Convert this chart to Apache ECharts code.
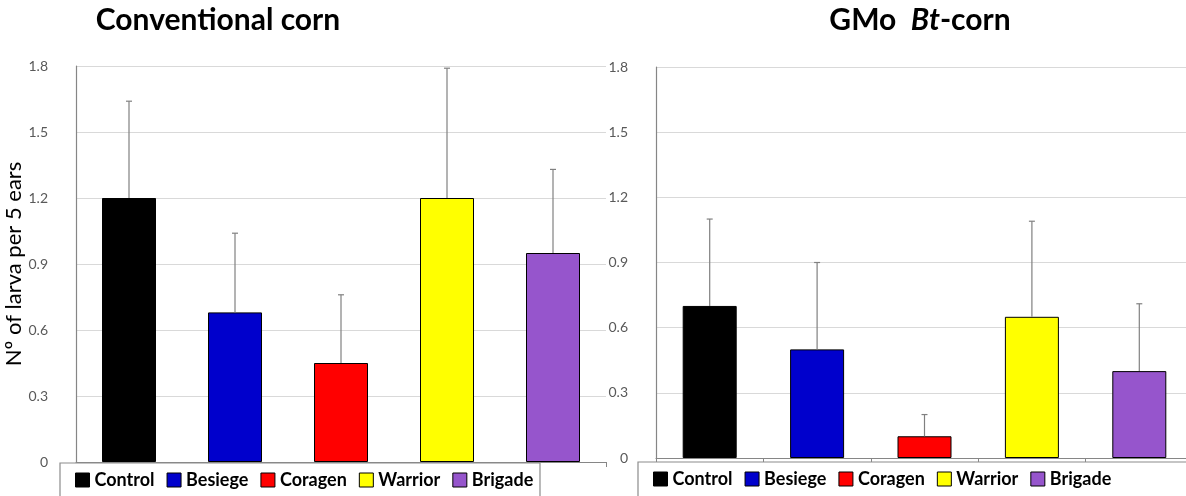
<!DOCTYPE html>
<html>
<head>
<meta charset="utf-8">
<script src="https://cdn.jsdelivr.net/npm/echarts@6/dist/echarts.min.js"></script>
<style>
  html, body { margin: 0; padding: 0; background: #fff; }
  #chart { width: 1186px; height: 496px; }
</style>
</head>
<body>
<div id="chart"></div>
<script>
// treatments, shown in both panels
var categories = ['Control', 'Besiege', 'Coragen', 'Warrior', 'Brigade'];
var barColors = ['#000000', '#0000cc', '#ff0000', '#ffff00', '#9655cc'];

// conventional corn: mean and error (upper bar)
var convMeans = [1.2, 0.68, 0.45, 1.2, 0.95];
var convErr = [0.44, 0.36, 0.31, 0.59, 0.38];

// GMo Bt-corn
var btMeans = [0.7, 0.5, 0.1, 0.65, 0.4];
var btErr = [0.4, 0.4, 0.1, 0.44, 0.31];

var yTicks = { min: 0, max: 1.8, interval: 0.3 };

var chart = echarts.init(document.getElementById('chart'));

function barSeries(means, g) {
    return categories.map(function (c, i) {
        return {
            type: 'bar',
            name: c,
            xAxisIndex: g,
            yAxisIndex: g,
            barWidth: 54,
            barGap: '-100%',
            data: means.map(function (v, j) { return j === i ? v : '-'; }),
            itemStyle: { color: barColors[i], borderColor: '#000', borderWidth: 1 },
            z: 2
        };
    });
}

function errSeries(means, errs, g) {
    return {
        type: 'custom',
        name: 'err' + g,
        xAxisIndex: g,
        yAxisIndex: g,
        z: 3,
        data: means.map(function (m, i) { return [i, m, errs[i]]; }),
        encode: { x: 0, y: 1 },
        renderItem: function (params, api) {
            var x = api.value(0), m = api.value(1), e = api.value(2);
            var p0 = api.coord([x, m]);
            var p1 = api.coord([x, m + e]);
            var st = { stroke: '#808080', lineWidth: 1.2 };
            return {
                type: 'group',
                children: [
                    { type: 'line', shape: { x1: p0[0], y1: p0[1], x2: p1[0], y2: p1[1] }, style: st },
                    { type: 'line', shape: { x1: p1[0] - 3, y1: p1[1], x2: p1[0] + 3, y2: p1[1] }, style: st }
                ]
            };
        }
    };
}

function yAxis(g, withName) {
    var ax = {
        type: 'value',
        gridIndex: g,
        min: yTicks.min,
        max: yTicks.max,
        interval: yTicks.interval,
        axisLine: { show: true, lineStyle: { color: '#868686', width: 1.2 } },
        axisTick: { show: false },
        axisLabel: { margin: 28, fontFamily: 'Lato', fontSize: 14, color: '#595959' },
        splitLine: { lineStyle: { color: '#d9d9d9', width: 1.2 } }
    };
    if (withName) {
        ax.name = 'Nº of larva per 5 ears';
        ax.nameLocation = 'middle';
        ax.nameRotate = 90;
        ax.nameGap = 47;
        ax.nameTextStyle = { fontFamily: 'Lato', fontSize: 22, color: '#000' };
    }
    return ax;
}

function xAxis(g) {
    return {
        type: 'category',
        gridIndex: g,
        data: categories,
        axisLine: { lineStyle: { color: '#868686', width: 1.2 } },
        axisTick: { show: true, length: 5, interval: 0, lineStyle: { color: '#868686' } },
        axisLabel: { show: false }
    };
}

var legendText = { fontFamily: 'Lato', fontWeight: 'bold', fontSize: 18, color: '#000' };

function legend(left, top) {
    return {
        data: categories, left: left, top: top, icon: 'rect',
        itemWidth: 14, itemHeight: 14, itemGap: 12, z: 6,
        padding: [8, 0, 0, 0],
        itemStyle: { borderColor: '#000', borderWidth: 1 },
        textStyle: legendText
    };
}

var titleStyle = { fontFamily: 'Lato', fontWeight: 'bold', fontSize: 30, fill: '#000', color: '#000' };

var option = {
    animation: false,
    backgroundColor: '#fff',
    graphic: [
        {
            type: 'text', x: 218, y: 20,
            style: {
                text: 'Conventional corn', align: 'center', verticalAlign: 'middle',
                font: 'bold 30px Lato', fill: '#000'
            }
        },
        {
            type: 'text', x: 920, y: 20,
            style: {
                text: '{n|GMo  }{i|Bt}{n|-corn}', align: 'center', verticalAlign: 'middle',
                rich: {
                    n: titleStyle,
                    i: Object.assign({}, titleStyle, { fontStyle: 'italic' })
                }
            }
        },
        // legend frames
        {
            type: 'rect', z: 5, shape: { x: 60, y: 463, width: 480, height: 60 },
            style: { fill: '#fff', stroke: '#8c8c8c', lineWidth: 1.2 }
        },
        {
            type: 'rect', z: 5, shape: { x: 638, y: 462, width: 580, height: 60 },
            style: { fill: '#fff', stroke: '#8c8c8c', lineWidth: 1.2 }
        }
    ],
    grid: [
        { left: 76, top: 66, width: 530, height: 396, outerBoundsMode: 'none' },
        { left: 656, top: 67, width: 537, height: 391, outerBoundsMode: 'none' }
    ],
    xAxis: [xAxis(0), xAxis(1)],
    yAxis: [yAxis(0, true), yAxis(1, false)],
    legend: [legend(75, 463), legend(653, 462)],
    series: barSeries(convMeans, 0)
        .concat(barSeries(btMeans, 1))
        .concat([errSeries(convMeans, convErr, 0), errSeries(btMeans, btErr, 1)])
};

chart.setOption(option);
</script>
</body>
</html>
